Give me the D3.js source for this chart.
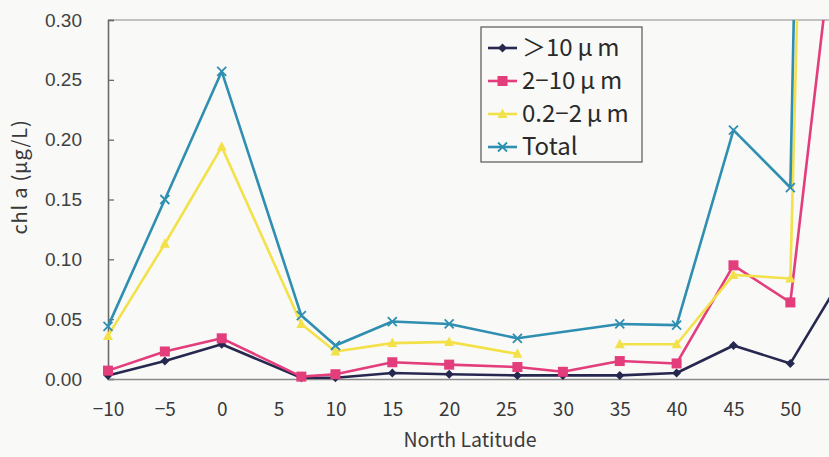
<!DOCTYPE html>
<html>
<head>
<meta charset="utf-8">
<script src="https://cdn.jsdelivr.net/npm/d3@7/dist/d3.min.js"></script>
<style>
  html, body { margin: 0; padding: 0; background: #f9f9f8; }
  svg { display: block; }
</style>
</head>
<body>
<svg id="chart" width="829" height="457"></svg>
<script>
// Sampling stations (degrees north) and size-fractionated chlorophyll a (μg/L)
const latitudes = [-10, -5, 0, 7, 10, 15, 20, 26, 30, 35, 40, 45, 50, 55];
const over10um  = [0.003, 0.015, 0.029, 0.001, 0.001, 0.005, 0.004, 0.003, 0.003, 0.003, 0.005, 0.028, 0.013, 0.092];
const from2to10 = [0.007, 0.023, 0.034, 0.002, 0.004, 0.014, 0.012, 0.010, 0.006, 0.015, 0.013, 0.095, 0.064, 0.47];
const from02to2 = [0.036, 0.113, 0.194, 0.046, 0.023, 0.030, 0.031, 0.021, null, 0.029, 0.029, 0.087, 0.084, 1.93];
const totalChl  = [0.044, 0.150, 0.257, 0.053, 0.028, 0.048, 0.046, 0.034, null, 0.046, 0.045, 0.208, 0.160, 2.50];

const seriesNames = ["＞10\u2009μ\u2009m", "2−10\u2009μ\u2009m", "0.2−2\u2009μ\u2009m", "Total"];
const xTickValues = [-10, -5, 0, 5, 10, 15, 20, 25, 30, 35, 40, 45, 50];
const yTickValues = [0, 0.05, 0.10, 0.15, 0.20, 0.25, 0.30];

const series = [
  { name: seriesNames[0], values: over10um,  color: "#27284f", marker: "diamond",  bridge: false },
  { name: seriesNames[1], values: from2to10, color: "#e33d7c", marker: "square",   bridge: false },
  { name: seriesNames[2], values: from02to2, color: "#f3e14a", marker: "triangle", bridge: false },
  { name: seriesNames[3], values: totalChl,  color: "#2f8fb0", marker: "cross",    bridge: true }
];

const svg = d3.select("#chart");
const plot = { left: 108, top: 20, bottom: 379, right: 829 };

const x = d3.scaleLinear().domain([-10, 53.4]).range([plot.left, plot.right]);
const y = d3.scaleLinear().domain([0, 0.30]).range([plot.bottom, plot.top]);

svg.append("defs").append("clipPath").attr("id", "plot-clip")
  .append("rect")
  .attr("x", plot.left - 8).attr("y", plot.top)
  .attr("width", plot.right - plot.left + 20).attr("height", plot.bottom - plot.top + 8);

// Frame: top edge
svg.append("line")
  .attr("x1", plot.left).attr("x2", plot.right)
  .attr("y1", plot.top).attr("y2", plot.top)
  .attr("stroke", "#8a8a8a").attr("stroke-width", 1.2);

// Y axis with inward ticks
const yAxis = svg.append("g")
  .attr("transform", `translate(${plot.left},0)`)
  .call(d3.axisLeft(y).tickValues(yTickValues).tickFormat(d3.format(".2f")).tickSize(-6).tickPadding(26));
yAxis.select(".domain").attr("stroke", "#6a6a6a").attr("stroke-width", 1.6);
yAxis.selectAll(".tick line").attr("stroke", "#6a6a6a").attr("stroke-width", 1.3);
yAxis.selectAll(".tick text")
  .attr("fill", "#404040")
  .style("font-family", "'Liberation Sans', Arial, sans-serif")
  .style("font-size", "19px");

// X axis: labels only below the baseline
const xAxis = svg.append("g")
  .attr("transform", `translate(0,${plot.bottom})`)
  .call(d3.axisBottom(x).tickValues(xTickValues)
    .tickFormat(d => d < 0 ? "−" + Math.abs(d) : String(d))
    .tickSize(0).tickPadding(24));
xAxis.select(".domain").attr("stroke", "#8a8a8a").attr("stroke-width", 1.4);
xAxis.selectAll(".tick text")
  .attr("fill", "#3a3a3a")
  .style("font-family", "'Noto Sans CJK JP', sans-serif")
  .style("font-size", "19px");

// Axis titles
svg.append("text")
  .attr("x", 470).attr("y", 447)
  .attr("text-anchor", "middle")
  .attr("fill", "#3a3a3a")
  .style("font-family", "'Noto Sans CJK JP', sans-serif")
  .style("font-size", "19.5px")
  .text("North Latitude");

svg.append("text")
  .attr("transform", "translate(27,177) rotate(-90)")
  .attr("text-anchor", "middle")
  .attr("fill", "#3a3a3a")
  .style("font-family", "'Noto Sans CJK JP', sans-serif")
  .style("font-size", "20px")
  .style("letter-spacing", "0.8px")
  .text("chl a (μg/L)");

// Marker drawing shared by the plot and the legend
function drawMarker(g, kind, color) {
  if (kind === "diamond") {
    g.append("path").attr("d", "M0,-4.5L4.5,0L0,4.5L-4.5,0Z").attr("fill", color);
  } else if (kind === "square") {
    g.append("rect").attr("x", -5).attr("y", -5).attr("width", 10).attr("height", 10).attr("fill", color);
  } else if (kind === "triangle") {
    g.append("path").attr("d", "M0,-5.5L5,4L-5,4Z").attr("fill", color);
  } else {
    g.append("path").attr("d", "M-4.5,-4.5L4.5,4.5M-4.5,4.5L4.5,-4.5")
      .attr("stroke", color).attr("stroke-width", 1.8).attr("fill", "none");
  }
}

const layer = svg.append("g").attr("clip-path", "url(#plot-clip)");

series.forEach(s => {
  const pts = latitudes.map((lat, i) => ({ lat, v: s.values[i] }));
  const linePts = s.bridge ? pts.filter(p => p.v != null) : pts;
  const line = d3.line()
    .defined(p => p.v != null)
    .x(p => x(p.lat))
    .y(p => y(p.v));
  layer.append("path")
    .datum(linePts)
    .attr("d", line)
    .attr("fill", "none")
    .attr("stroke", s.color)
    .attr("stroke-width", 2.6)
    .attr("stroke-linejoin", "round");
  pts.filter(p => p.v != null).forEach(p => {
    const g = layer.append("g").attr("transform", `translate(${x(p.lat)},${y(p.v)})`);
    drawMarker(g, s.marker, s.color);
  });
});

// Legend
const legend = svg.append("g").attr("transform", "translate(481,27)");
legend.append("rect")
  .attr("width", 161).attr("height", 135)
  .attr("fill", "#f9f9f8")
  .attr("stroke", "#555").attr("stroke-width", 1.2);

series.forEach((s, i) => {
  const row = legend.append("g").attr("transform", `translate(0,${21 + i * 33})`);
  row.append("line")
    .attr("x1", 7).attr("x2", 36)
    .attr("stroke", s.color).attr("stroke-width", 2.6);
  const m = row.append("g").attr("transform", "translate(21.5,0)");
  drawMarker(m, s.marker, s.color);
  row.append("text")
    .attr("x", 41).attr("y", 0)
    .attr("dy", "0.35em")
    .attr("fill", "#2a2a2a")
    .style("font-family", "'Noto Sans CJK JP', sans-serif")
    .style("font-size", "24px")
    .text(s.name);
});
</script>
</body>
</html>
